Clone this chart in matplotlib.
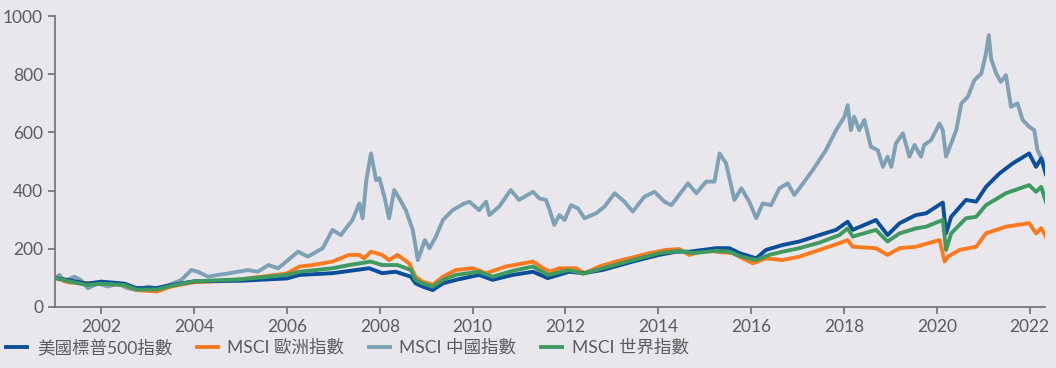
import numpy as np
import matplotlib.pyplot as plt

plt.rcParams['font.family'] = ['Lato', 'Noto Sans CJK TC', 'DejaVu Sans']

# MSCI China
cn_t = [2001.0, 2001.1, 2001.2, 2001.42, 2001.56, 2001.71, 2001.92, 2002.14, 2002.35, 2002.57,
        2002.78, 2003.0, 2003.2, 2003.43, 2003.72, 2003.94, 2004.08, 2004.3, 2004.51, 2004.73,
        2004.94, 2005.16, 2005.37, 2005.6, 2005.81, 2006.02, 2006.24, 2006.45, 2006.77, 2006.98,
        2007.16, 2007.41, 2007.56, 2007.63, 2007.71, 2007.81, 2007.92, 2007.99, 2008.1, 2008.2,
        2008.31, 2008.42, 2008.56, 2008.71, 2008.82, 2008.97, 2009.07, 2009.21, 2009.36, 2009.57,
        2009.82, 2009.93, 2010.14, 2010.29, 2010.36, 2010.57, 2010.82, 2011.0, 2011.3, 2011.44,
        2011.58, 2011.66, 2011.76, 2011.87, 2011.98, 2012.12, 2012.27, 2012.41, 2012.66, 2012.84,
        2013.06, 2013.27, 2013.45, 2013.7, 2013.92, 2014.13, 2014.28, 2014.42, 2014.64, 2014.82,
        2015.03, 2015.21, 2015.32, 2015.46, 2015.64, 2015.79, 2015.96, 2016.11, 2016.25, 2016.43,
        2016.61, 2016.79, 2016.93, 2017.04, 2017.33, 2017.61, 2017.83, 2018.01, 2018.08, 2018.15,
        2018.22, 2018.33, 2018.44, 2018.58, 2018.73, 2018.84, 2018.94, 2019.02, 2019.12, 2019.27,
        2019.41, 2019.52, 2019.66, 2019.73, 2019.88, 2020.06, 2020.13, 2020.2, 2020.31, 2020.42,
        2020.53, 2020.67, 2020.81, 2020.96, 2021.06, 2021.12, 2021.17, 2021.28, 2021.38, 2021.49,
        2021.6, 2021.74, 2021.85, 2021.99, 2022.1, 2022.17, 2022.28, 2022.35]
cn_v = [100, 110, 88, 104, 92, 64, 81, 70, 81, 64,
        58, 70, 64, 74, 92, 127, 121, 104, 110, 115,
        121, 127, 121, 144, 133, 161, 190, 173, 202, 265,
        247, 299, 356, 305, 436, 528, 436, 443, 378, 305,
        402, 373, 333, 265, 161, 230, 202, 242, 299, 333,
        356, 362, 333, 362, 316, 345, 402, 368, 396, 373,
        368, 333, 282, 316, 299, 350, 339, 305, 322, 345,
        391, 362, 328, 379, 396, 362, 350, 379, 425, 391,
        431, 431, 528, 494, 368, 408, 362, 305, 356, 350,
        408, 425, 385, 408, 471, 539, 608, 654, 694, 608,
        654, 608, 643, 551, 539, 482, 517, 482, 562, 597,
        517, 557, 517, 557, 574, 631, 608, 517, 562, 608,
        700, 723, 780, 803, 872, 935, 854, 803, 774, 797,
        688, 700, 643, 620, 608, 539, 505, 459]

# S&P 500
us_t = [2001.0, 2001.3, 2001.7, 2002.0, 2002.5, 2002.75, 2003.2, 2003.5, 2004.0, 2005.0,
        2006.0, 2006.27, 2006.98, 2007.77, 2008.05, 2008.34, 2008.67, 2008.77, 2008.92, 2009.14,
        2009.36, 2009.64, 2010.14, 2010.43, 2010.86, 2011.3, 2011.62, 2012.08, 2012.38, 2012.8,
        2013.45, 2014.02, 2014.38, 2014.67, 2015.25, 2015.53, 2015.75, 2016.11, 2016.32, 2016.68,
        2017.04, 2017.47, 2017.83, 2018.08, 2018.19, 2018.69, 2018.94, 2019.2, 2019.55, 2019.77,
        2020.13, 2020.2, 2020.31, 2020.63, 2020.85, 2021.06, 2021.35, 2021.64, 2021.99, 2022.14,
        2022.25, 2022.35]
us_v = [100, 92, 80, 87, 80, 65, 65, 75, 88, 90,
        98, 110, 116, 133, 116, 121, 104, 81, 70, 58,
        81, 93, 110, 93, 110, 121, 99, 121, 116, 127,
        156, 179, 190, 190, 202, 202, 185, 167, 196, 213,
        225, 247, 265, 293, 265, 299, 247, 288, 316, 322,
        359, 253, 310, 368, 362, 413, 459, 494, 528, 482,
        511, 457]

# MSCI Europe
eu_t = [2001.0, 2001.3, 2002.0, 2002.5, 2002.75, 2003.2, 2003.5, 2004.0, 2004.5, 2005.0,
        2005.5, 2006.0, 2006.27, 2006.55, 2006.98, 2007.34, 2007.56, 2007.66, 2007.81, 2008.05,
        2008.2, 2008.38, 2008.63, 2008.77, 2008.92, 2009.14, 2009.36, 2009.64, 2010.0, 2010.29,
        2010.72, 2011.3, 2011.58, 2011.66, 2011.87, 2012.23, 2012.41, 2012.73, 2013.09, 2013.52,
        2013.81, 2014.17, 2014.45, 2014.67, 2015.03, 2015.25, 2015.6, 2015.82, 2016.04, 2016.32,
        2016.68, 2017.04, 2017.47, 2017.9, 2018.08, 2018.19, 2018.69, 2018.94, 2019.2, 2019.55,
        2020.06, 2020.17, 2020.24, 2020.49, 2020.85, 2021.06, 2021.49, 2021.99, 2022.14, 2022.25,
        2022.35]
eu_v = [100, 84, 80, 75, 58, 53, 70, 85, 88, 95,
        105, 115, 139, 144, 156, 179, 179, 167, 190, 179,
        161, 179, 150, 104, 87, 76, 104, 127, 133, 116,
        139, 156, 127, 121, 133, 133, 116, 139, 156, 173,
        185, 196, 199, 179, 196, 190, 185, 167, 150, 167,
        161, 173, 196, 219, 230, 207, 202, 179, 202, 207,
        230, 156, 173, 196, 207, 253, 276, 288, 253, 271,
        242]

# MSCI World
wd_t = [2001.0, 2001.3, 2001.7, 2002.0, 2002.5, 2002.75, 2003.2, 2003.5, 2004.0, 2005.0,
        2006.0, 2006.27, 2006.98, 2007.34, 2007.81, 2008.05, 2008.38, 2008.67, 2008.77, 2008.92,
        2009.14, 2009.36, 2009.64, 2010.14, 2010.43, 2010.86, 2011.3, 2011.62, 2012.08, 2012.38,
        2012.8, 2013.45, 2014.02, 2014.45, 2014.74, 2015.25, 2015.53, 2015.79, 2016.11, 2016.39,
        2016.68, 2017.04, 2017.47, 2017.9, 2018.08, 2018.19, 2018.69, 2018.94, 2019.2, 2019.55,
        2019.77, 2020.13, 2020.2, 2020.31, 2020.63, 2020.85, 2021.06, 2021.49, 2021.99, 2022.14,
        2022.25, 2022.35]
wd_v = [100, 88, 75, 80, 75, 60, 60, 72, 88, 95,
        110, 121, 133, 144, 156, 144, 144, 127, 93, 81,
        70, 93, 110, 121, 104, 124, 139, 110, 127, 114,
        133, 161, 185, 193, 185, 193, 190, 173, 161, 179,
        190, 202, 221, 247, 270, 242, 265, 225, 253, 270,
        276, 299, 196, 253, 305, 310, 350, 391, 419, 396,
        413, 362]

labels = ['美國標普500指數', 'MSCI 歐洲指數', 'MSCI 中國指數', 'MSCI 世界指數']
colors = ['#0b4f9c', '#ff7a1f', '#7fa1b5', '#3f9a62']

bg = '#e9e7ec'
fig = plt.figure(figsize=(10.56, 3.68), dpi=100, facecolor=bg)
ax = fig.add_axes([0.052, 0.166, 0.9375, 0.79])
ax.set_facecolor(bg)

lw = 2.8
ax.plot(cn_t, cn_v, color=colors[2], lw=lw, label=labels[2], zorder=2)
ax.plot(eu_t, eu_v, color=colors[1], lw=lw, label=labels[1], zorder=3)
ax.plot(us_t, us_v, color=colors[0], lw=lw, label=labels[0], zorder=4)
ax.plot(wd_t, wd_v, color=colors[3], lw=lw, label=labels[3], zorder=5)

ax.set_xlim(2001.0, 2022.33)
ax.set_ylim(0, 1000)
ax.set_xticks(np.arange(2002, 2023, 2))
ax.set_yticks(np.arange(0, 1001, 200))
for s in ['top', 'right']:
    ax.spines[s].set_visible(False)
for s in ['left', 'bottom']:
    ax.spines[s].set_color('#6f6f73')
    ax.spines[s].set_linewidth(1.2)
ax.tick_params(colors='#6f6f73', labelcolor='#5b5b60', labelsize=12.5, length=5, width=1.2)

h, l = ax.get_legend_handles_labels()
order = [l.index(x) for x in labels]
fig.legend([h[i] for i in order], labels, loc='lower left', bbox_to_anchor=(-0.009, -0.01),
           ncol=4, frameon=False, fontsize=12.6, handlelength=1.2, columnspacing=1.4,
           handletextpad=0.55, labelcolor='#5b5b60')

fig.savefig('out.png', dpi=100, facecolor=bg)
